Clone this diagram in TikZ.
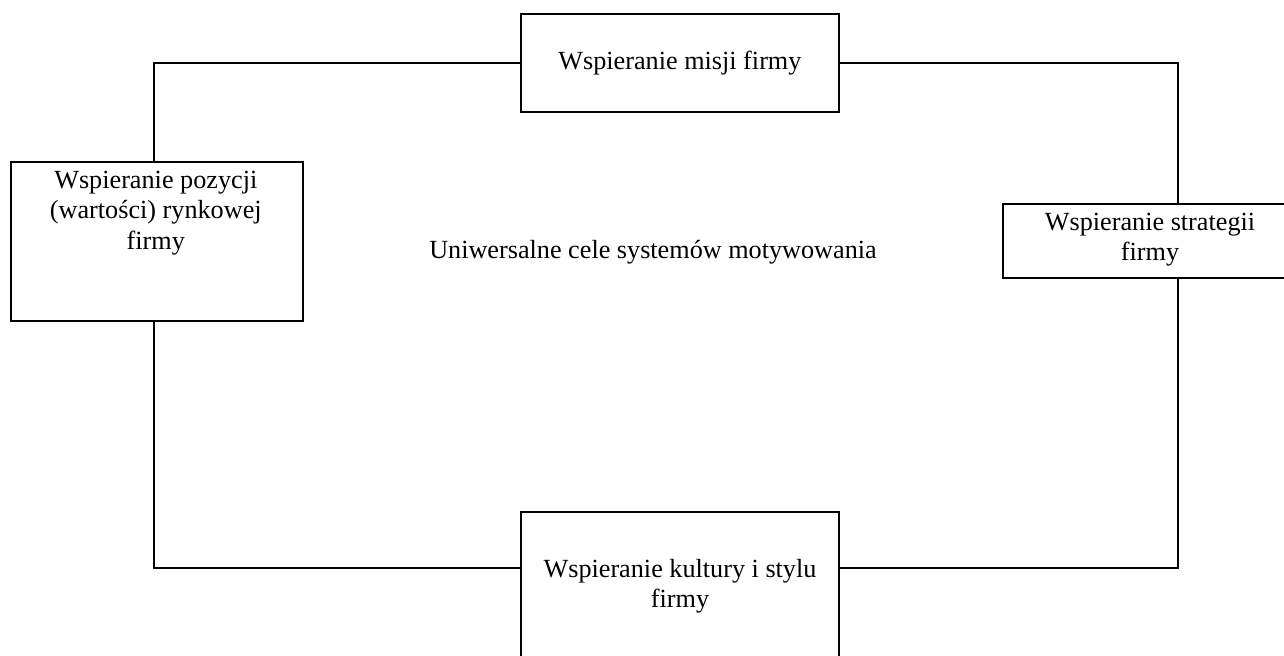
\documentclass[tikz,border=0pt]{standalone}
\usepackage{fontspec}
\setmainfont{Liberation Serif}

\begin{document}
\begin{tikzpicture}[x=0.5pt, y=-0.5pt, line width=0.9pt,
		box/.style={draw, black, rectangle, inner sep=0pt},
		txt/.style={align=center, inner sep=0pt, font=\fontsize{13.1}{15.25}\selectfont}]
	\useasboundingbox (0, 0) rectangle (1284, 655);
	\node[box, txt, minimum width=159.15pt, minimum height=49pt] (misja) at (679.9, 63) {Wspieranie misji firmy};
	\node[box, minimum width=146pt, minimum height=79.65pt] (poz) at (156.7, 241.35) {};
	\node[txt, anchor=north] (poz-t) at (155.8, 170) {Wspieranie pozycji\\(wartości) rynkowej\\firmy};
	\node[box, minimum width=180pt, minimum height=36.85pt] (strat) at (1183, 240.85) {};
	\node[txt] (strat-t) at (1150, 239.5) {Wspieranie strategii\\firmy};
	\node[box, minimum width=159.15pt, minimum height=100pt] (kult) at (679.85, 612) {};
	\node[txt, anchor=north] (kult-t) at (680, 558) {Wspieranie kultury i stylu\\firmy};
	\node[txt, anchor=base] (cel) at (653, 258) {Uniwersalne cele systemów motywowania};
	\coordinate (lft) at (154.3, 0);
	\coordinate (rgt) at (1178.3, 0);
	\coordinate (dol) at (0, 567.7);
	\draw (misja.west) -| (lft |- poz.north);
	\draw (misja.east) -| (rgt |- strat.north);
	\draw (rgt |- strat.south) |- (dol -| kult.east);
	\draw (kult.west |- dol) -| (lft |- poz.south);
\end{tikzpicture}
\end{document}
